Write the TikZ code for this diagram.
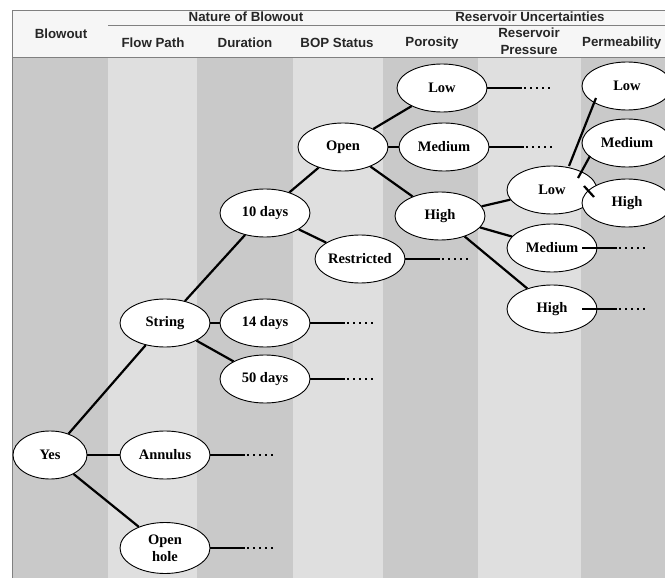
\documentclass[tikz,border=0pt]{standalone}
\usepackage{fontspec}
\setmainfont{Liberation Serif}
\setsansfont{Liberation Sans}
\usetikzlibrary{shapes.geometric}

\definecolor{darkcol}{HTML}{C9C9C9}
\definecolor{lightcol}{HTML}{DFDFDF}
\definecolor{headcol}{HTML}{F6F6F6}

\tikzset{
	opt/.style={ellipse, draw=black, fill=white, line width=0.9pt, minimum width=90pt, minimum height=48pt, inner sep=0pt, align=center, font=\bfseries\fontsize{14.5}{17}\selectfont},
	edge/.style={line width=2.2pt},
	dots/.style={line width=2.2pt, dash pattern=on 2pt off 4pt},
	head/.style={font=\sffamily\bfseries\fontsize{13.3}{17}\selectfont, align=center, text=black!85, inner sep=0pt},
	border/.style={draw=black!50, line width=0.9pt}
}

% solid stub and dots after a node
\newcommand{\tailoff}[2][0]{
	\draw[edge] ([xshift=-#1pt]#2.east) -- ++(35,0) coordinate (#2-end);
	\draw[dots] ([xshift=2pt]#2-end) -- ++(28,0);
}

\begin{document}
\begin{tikzpicture}[x=1pt,y=-1pt]
		\useasboundingbox (0,0) rectangle (665,578);
		\clip (0,0) rectangle (665,578);
		%columns
		\foreach \xa/\xb/\col in {13/108/darkcol,108/197/lightcol,197/293/darkcol,293/383/lightcol,383/478/darkcol,478/581/lightcol,581/680/darkcol}
			\fill[fill=\col] (\xa,57) rectangle (\xb,578);
		%header
		\fill[headcol] (12,10) rectangle (680,57);
		\draw[border] (680,10) -- (12,10) -- (12,578);
		\draw[border] (12,57) -- (680,57);
		\draw[border] (108,25) -- (680,25);
		\node[head] (hblow) at (61,34) {Blowout};
		\node[head] (hnat) at (246,17) {Nature of Blowout};
		\node[head] (hres) at (530,17) {Reservoir Uncertainties};
		\node[head] (hflow) at (153,43) {Flow Path};
		\node[head] (hdur) at (245,43) {Duration};
		\node[head] (hbop) at (337,43) {BOP Status};
		\node[head] (hpor) at (432,43) {Porosity};
		\node[head] (hpres) at (529,41) {Reservoir\\Pressure};
		\node[head, anchor=west] (hperm) at (582,43) {Permeability};
		%blowout and flow path
		\node[opt, minimum width=74pt] (yes) at (50,455) {Yes};
		\node[opt] (string) at (165,323) {String};
		\node[opt] (annulus) at (165,455) {Annulus};
		\node[opt, minimum height=51pt] (openhole) at (165,548) {Open\\hole};
		%duration
		\node[opt] (d10) at (265,213) {10 days};
		\node[opt] (d14) at (265,323) {14 days};
		\node[opt] (d50) at (265,379) {50 days};
		%bop status
		\node[opt] (open) at (343,147) {Open};
		\node[opt] (restricted) at (360,259) {Restricted};
		%porosity
		\node[opt] (porlow) at (442,88) {Low};
		\node[opt] (pormed) at (444,147) {Medium};
		\node[opt] (porhigh) at (440,216) {High};
		%reservoir pressure
		\node[opt] (preslow) at (552,190) {Low};
		\node[opt] (presmed) at (552,248) {Medium};
		\node[opt] (preshigh) at (552,309) {High};
		%permeability
		\node[opt] (permlow) at (627,86) {Low};
		\node[opt] (permmed) at (627,143) {Medium};
		\node[opt] (permhigh) at (627,203) {High};
		%tree
		\draw[edge] (yes) -- (string);
		\draw[edge] (yes) -- (annulus);
		\draw[edge] (yes) -- (openhole);
		\draw[edge] (string) -- (d10);
		\draw[edge] (string) -- (d14);
		\draw[edge] (string) -- (d50);
		\draw[edge] (d10) -- (open);
		\draw[edge] (d10) -- (restricted);
		\draw[edge] (open) -- (porlow);
		\draw[edge] (open) -- (pormed);
		\draw[edge] (open) -- (porhigh);
		\draw[edge] (porhigh) -- (preslow);
		\draw[edge] (porhigh) -- (presmed);
		\draw[edge] (porhigh) -- (preshigh);
		\draw[edge] ([xshift=17pt,yshift=24pt]preslow.center) -- ([xshift=-31pt,yshift=-12pt]permlow.center);
		\draw[edge] ([xshift=26pt,yshift=12pt]preslow.center) -- ([xshift=-37pt,yshift=-13pt]permmed.center);
		\draw[edge] ([xshift=32pt,yshift=4pt]preslow.center) -- ([xshift=-33pt,yshift=6pt]permhigh.center);
		%open ends
		\tailoff{annulus}
		\tailoff{openhole}
		\tailoff{d14}
		\tailoff{d50}
		\tailoff{restricted}
		\tailoff{porlow}
		\tailoff{pormed}
		\tailoff[15]{presmed}
		\tailoff[15]{preshigh}
	\end{tikzpicture}
\end{document}
